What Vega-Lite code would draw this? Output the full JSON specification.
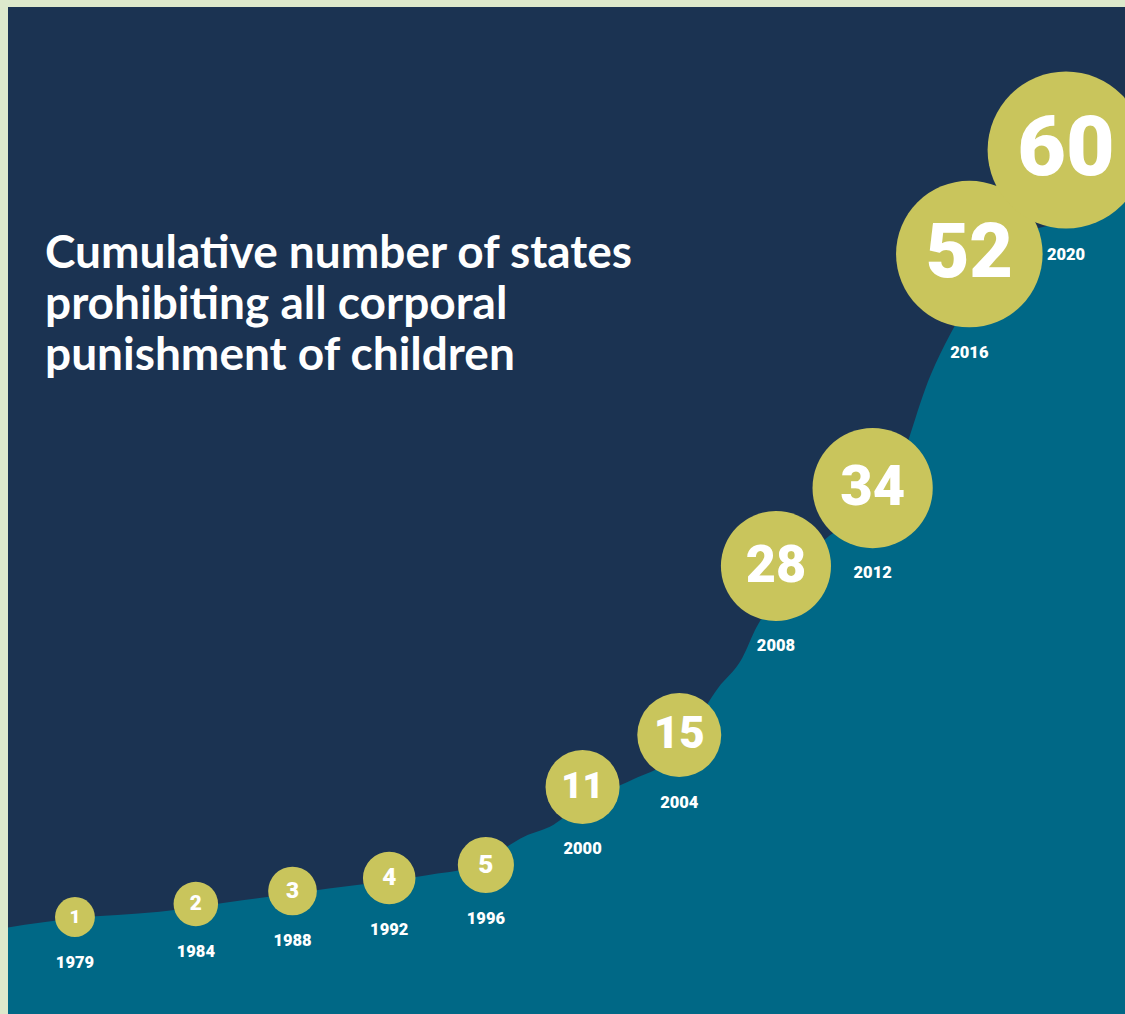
{
  "$schema": "https://vega.github.io/schema/vega-lite/v6.json",
  "width": 1125,
  "height": 1014,
  "autosize": {"type": "fit", "contains": "padding"},
  "padding": {"left": 8, "top": 7, "right": 0, "bottom": 0},
  "background": "#dde9cc",
  "config": {"view": {"stroke": null, "fill": "#1b3352"}},
  "title": {
    "text": ["Cumulative number of states", "prohibiting all corporal", "punishment of children"],
    "anchor": "start",
    "frame": "group",
    "orient": "top",
    "offset": 0,
    "dx": 37,
    "dy": 409,
    "baseline": "alphabetic",
    "lineHeight": 51,
    "fontSize": 46,
    "font": "Lato",
    "fontWeight": "bold",
    "color": "#ffffff"
  },
  "datasets": {
    "states": [
      {"year": 1979, "count": 1},
      {"year": 1984, "count": 2},
      {"year": 1988, "count": 3},
      {"year": 1992, "count": 4},
      {"year": 1996, "count": 5},
      {"year": 2000, "count": 11},
      {"year": 2004, "count": 15},
      {"year": 2008, "count": 28},
      {"year": 2012, "count": 34},
      {"year": 2016, "count": 52},
      {"year": 2020, "count": 60}
    ],
    "trend": [
      {"year": 1976.23, "value": 0.2},
      {"year": 1979, "value": 0.9},
      {"year": 1982.5, "value": 1.4},
      {"year": 1986, "value": 2.3},
      {"year": 1989.5, "value": 3.2},
      {"year": 1993.5, "value": 4.2},
      {"year": 1995.5, "value": 4.9},
      {"year": 1997.6, "value": 7.2},
      {"year": 1998.8, "value": 8.1},
      {"year": 2000, "value": 9.8},
      {"year": 2002.1, "value": 11.6},
      {"year": 2003.7, "value": 13.2},
      {"year": 2005.6, "value": 18.6},
      {"year": 2006.6, "value": 20.9},
      {"year": 2007.2, "value": 23.3},
      {"year": 2008.2, "value": 26},
      {"year": 2010, "value": 30},
      {"year": 2011.8, "value": 32.2},
      {"year": 2012.7, "value": 34},
      {"year": 2014.4, "value": 42.7},
      {"year": 2016, "value": 48.5},
      {"year": 2017.5, "value": 53.3},
      {"year": 2019.3, "value": 54.2},
      {"year": 2022.44, "value": 56.4}
    ]
  },
  "resolve": {"scale": {"size": "independent"}},
  "layer": [
    {
      "data": {"name": "trend"},
      "mark": {"type": "area", "color": "#006886", "interpolate": "monotone", "clip": true},
      "encoding": {
        "x": {"field": "year", "type": "quantitative", "axis": null,
              "scale": {"domain": [1976.23, 2022.44], "nice": false, "zero": false}},
        "y": {"field": "value", "type": "quantitative", "axis": null,
              "scale": {"domain": [-6.46, 71], "nice": false, "zero": false}},
        "y2": {"datum": -6.46}
      }
    },
    {
      "data": {"name": "states"},
      "mark": {"type": "circle", "color": "#c9c55c", "opacity": 1, "clip": true},
      "encoding": {
        "x": {"field": "year", "type": "quantitative"},
        "y": {"field": "count", "type": "quantitative"},
        "size": {"field": "count", "type": "quantitative", "legend": null,
                 "scale": {"domain": [0, 60], "range": [1200, 24600]}}
      }
    },
    {
      "data": {"name": "states"},
      "mark": {"type": "text", "color": "#ffffff", "font": "Roboto", "fontWeight": 900,
               "align": "center", "baseline": "middle", "clip": true},
      "encoding": {
        "x": {"field": "year", "type": "quantitative"},
        "y": {"field": "count", "type": "quantitative"},
        "text": {"field": "count", "type": "quantitative", "format": "d"},
        "size": {"field": "count", "type": "quantitative", "legend": null,
                 "scale": {"type": "linear", "domain": [1, 15, 34, 60], "range": [19, 44, 56, 84]}}
      }
    },
    {
      "data": {"name": "states"},
      "mark": {"type": "text", "color": "#ffffff", "font": "Roboto", "fontWeight": 900,
               "fontSize": 16.5, "align": "center", "baseline": "middle", "theta": 3.14159, "clip": true},
      "encoding": {
        "x": {"field": "year", "type": "quantitative"},
        "y": {"field": "count", "type": "quantitative"},
        "text": {"field": "year", "type": "quantitative", "format": "d"},
        "radius": {"field": "count", "type": "quantitative", "legend": null,
                   "scale": {"type": "linear", "zero": false, "domain": [1, 5, 15, 34, 60], "range": [46, 54, 68, 85, 105]}}
      }
    }
  ]
}
